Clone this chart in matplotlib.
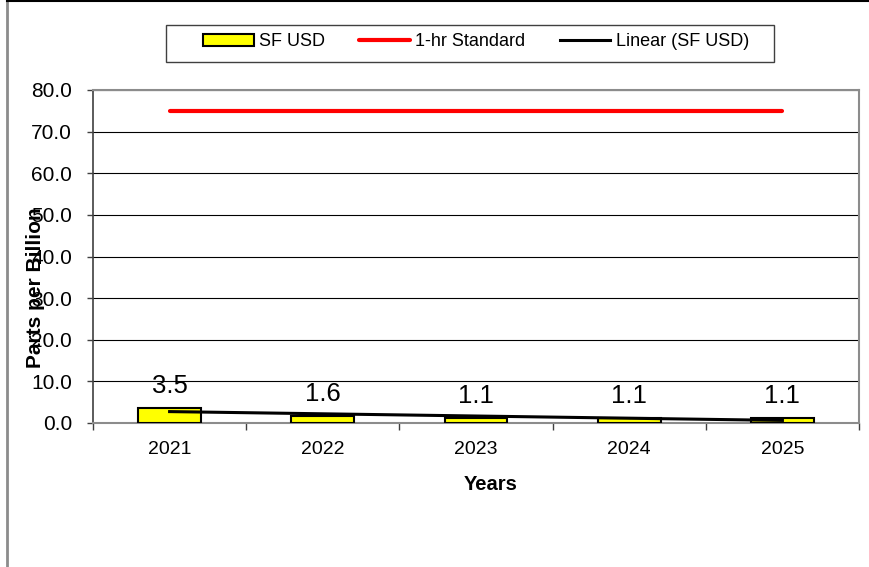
import matplotlib.pyplot as plt
import numpy as np
from matplotlib.lines import Line2D
from matplotlib.patches import Patch, Rectangle

plt.rcParams["font.family"] = ["Liberation Sans", "DejaVu Sans"]

years = ["2021", "2022", "2023", "2024", "2025"]
sf_usd = [3.5, 1.6, 1.1, 1.1, 1.1]
standard_1hr = [75, 75, 75, 75, 75]
y_ticks = [0, 10, 20, 30, 40, 50, 60, 70, 80]

x = np.arange(len(years))
slope, intercept = np.polyfit(x, sf_usd, 1)
trend = slope * x + intercept

fig = plt.figure(figsize=(8.7, 5.67), dpi=100)
ax = fig.add_axes([93 / 870, 1 - 423 / 567, 766 / 870, 333 / 567])

ax.bar(x, sf_usd, width=0.41, color="#ffff00", edgecolor="black", linewidth=1.5, zorder=3)
ax.plot(x, standard_1hr, color="#ff0000", linewidth=3, solid_capstyle="round", zorder=4)
ax.plot(x, trend, color="black", linewidth=2.2, zorder=5)

for xi, v in zip(x, sf_usd):
    ax.annotate(f"{v:.1f}", (xi, v), xytext=(0, 11), textcoords="offset points",
                ha="center", va="baseline", fontsize=18.5)

ax.set_xlim(-0.5, len(years) - 0.5)
ax.set_ylim(0, 80)
ax.set_yticks(y_ticks)
ax.set_yticklabels([f"{t:.1f}" for t in y_ticks])
ax.set_xticks(x)
ax.set_xticklabels(years)
ax.set_xticks(np.arange(len(years) + 1) - 0.5, minor=True)
ax.tick_params(axis="x", which="major", length=0, pad=13, labelsize=14)
ax.tick_params(axis="x", which="minor", length=5, width=1, color="#404040", direction="out")
ax.tick_params(axis="y", length=4, width=1, color="#404040", pad=11, labelsize=15)
ax.grid(axis="y", color="black", linewidth=0.8, zorder=0)

for side in ["top", "right", "bottom"]:
    ax.spines[side].set_color("#8c8c8c")
    ax.spines[side].set_linewidth(1.5)
ax.spines["left"].set_color("#404040")
ax.spines["left"].set_linewidth(1.2)

fig.text(491 / 870, 1 - 485 / 567, "Years", ha="center", va="center", fontsize=14.5, fontweight="bold")
fig.text(36 / 870, 1 - 288 / 567, "Parts per Billion", rotation=90, ha="center", va="center",
         fontsize=15, fontweight="bold")

# legend box drawn separately so it can be wider than its content
fig.add_artist(Rectangle((166 / 870, 1 - 62 / 567), 608 / 870, 37 / 567, transform=fig.transFigure,
                         facecolor="white", edgecolor="#404040", linewidth=1.0, zorder=1))
handles = [
    Patch(facecolor="#ffff00", edgecolor="black", linewidth=1.5),
    Line2D([], [], color="#ff0000", linewidth=3, solid_capstyle="round"),
    Line2D([], [], color="black", linewidth=2.2),
]
leg = fig.legend(handles, ["SF USD", "1-hr Standard", "Linear (SF USD)"], ncol=3,
                 loc="center", bbox_to_anchor=(476 / 870, 1 - 42 / 567), fontsize=13,
                 frameon=False, handlelength=2.8, handleheight=0.65, handletextpad=0.3,
                 columnspacing=1.9, borderpad=0.3)
leg.set_zorder(2)

fig.add_artist(Line2D([7 / 870, 7 / 870], [0, 1], transform=fig.transFigure, color="#8c8c8c", linewidth=2))
fig.add_artist(Line2D([7 / 870, 1], [0.999, 0.999], transform=fig.transFigure, color="black", linewidth=1.5))

fig.savefig("out.png", dpi=100)
plt.close(fig)
